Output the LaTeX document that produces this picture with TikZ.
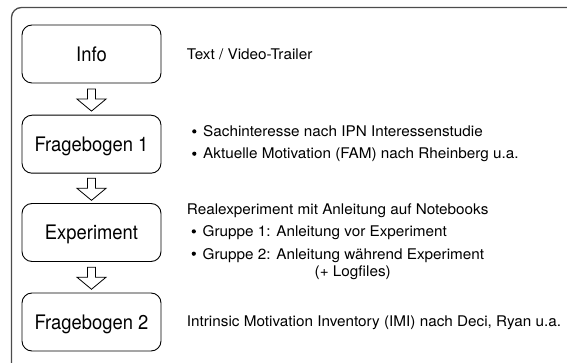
\documentclass[tikz,border=0pt]{standalone}
\usepackage{fontspec}
\setmainfont{TeX Gyre Heros}
\newfontfamily\lblfont[FakeStretch=0.92]{TeX Gyre Heros}
\newfontfamily\descfont[FakeStretch=1.04]{TeX Gyre Heros}
\usetikzlibrary{calc}
\newcommand\bul{\makebox[11pt][l]{\tikz[baseline=0pt]\fill[black] (3pt,5.3pt) circle[radius=2.1pt];}}
\newcommand\flowarrow[2]{%
  \draw[harrow] let \p1=($(#1.south)!0.5!(#2.north)$) in
    (\x1-4pt,\y1+10pt) -- (\x1+4pt,\y1+10pt) -- (\x1+4pt,\y1) -- (\x1+14.5pt,\y1)
    -- (\x1,\y1-12pt) -- (\x1-14.5pt,\y1) -- (\x1-4pt,\y1) -- cycle;}
\begin{document}
\begin{tikzpicture}[x=1pt,y=-1pt,
  stage/.style={draw=black, line width=0.9pt, rounded corners=10pt,
    minimum width=139pt, minimum height=58pt, inner sep=0pt,
    text height=14.4pt, text depth=0pt,
    font=\lblfont\fontsize{20}{24}\selectfont},
  desc/.style={anchor=base west, inner sep=0pt, font=\descfont\fontsize{14.7}{17}\selectfont},
  harrow/.style={draw=black, line width=0.8pt, fill=white, line join=miter},
  frame/.style={draw=black!70, line width=1.3pt, rounded corners=10pt}]
\useasboundingbox (0,0) rectangle (567,363);
\begin{scope}
  \clip (0,0) rectangle (567,363);
  \draw[frame] (11.5,7.5) rectangle (620,420);
\end{scope}

\node[stage] (info) at (91.5,54) {Info};
\node[stage] (fb1) at (91.5,144.2) {Fragebogen 1};
\node[stage] (exp) at (91.5,232.5) {Experiment};
\node[stage] (fb2) at (91.5,322) {Fragebogen 2};

\flowarrow{info}{fb1}
\flowarrow{fb1}{exp}
\flowarrow{exp}{fb2}

\node[desc] (t1) at (186.7,60) {Text / Video-Trailer};
\node[desc] (t2) at (192,136.7) {\bul Sachinteresse nach IPN Interessenstudie};
\node[desc] (t3) at (192,159) {\bul Aktuelle Motivation (FAM) nach Rheinberg u.a.};
\node[desc] (t4) at (186.7,215) {Realexperiment mit Anleitung auf Notebooks};
\node[desc] (t5) at (191.5,236.7) {\bul Gruppe 1: Anleitung vor Experiment};
\node[desc] (t6) at (191.5,259) {\bul Gruppe 2: Anleitung während Experiment};
\node[desc] (t7) at (314.5,276.7) {(+ Logfiles)};
\node[desc] (t8) at (186.7,326.7) {Intrinsic Motivation Inventory (IMI) nach Deci, Ryan u.a.};
\end{tikzpicture}
\end{document}
